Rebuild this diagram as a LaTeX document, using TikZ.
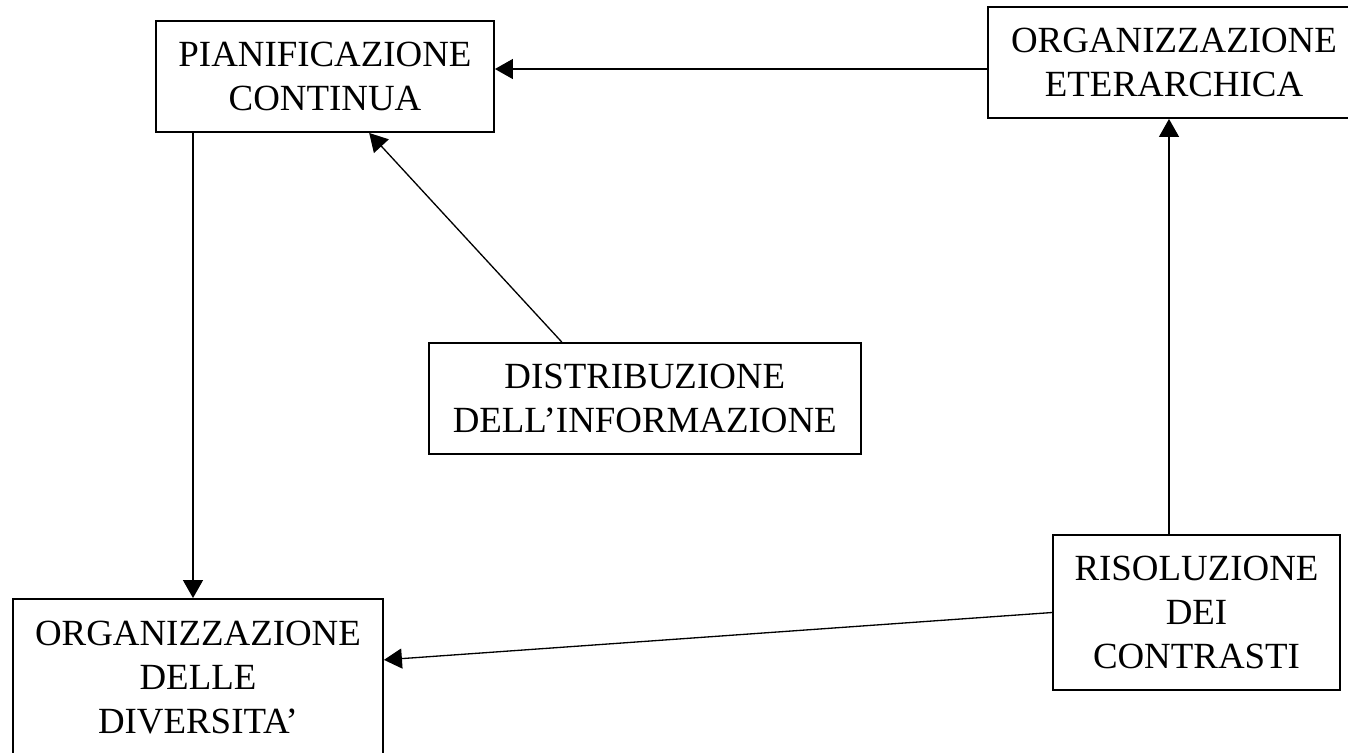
\documentclass[tikz,border=0pt]{standalone}
\usepackage{fontspec}
\setmainfont{Liberation Serif}
\usetikzlibrary{arrows.meta,calc}

\begin{document}
\begin{tikzpicture}[x=0.02cm,y=-0.02cm,
    box/.style={draw,line width=1.1pt,align=center,inner sep=0pt,font=\fontsize{21pt}{25pt}\selectfont},
    arr/.style={line width=0.75pt,-{Triangle[length=0.36cm,width=0.4cm]}}]
      \useasboundingbox (0,0) rectangle (1348,752);
      \clip (0,0) rectangle (1348,752);
      \node[box,minimum width=6.76cm,minimum height=2.22cm] (plan) at (325,76.5) {PIANIFICAZIONE\\CONTINUA};
      \node[box,minimum width=7.44cm,minimum height=2.22cm] (eter) at (1174,62.5) {ORGANIZZAZIONE\\ETERARCHICA};
      \node[box,minimum width=8.65cm,minimum height=2.22cm] (distr) at (644.75,398.5) {DISTRIBUZIONE\\DELL’INFORMAZIONE};
      \node[box,minimum width=5.74cm,minimum height=3.10cm] (risol) at (1196.5,612.5) {RISOLUZIONE\\DEI\\CONTRASTI};
      \node[box,minimum width=7.40cm,minimum height=3.14cm] (divers) at (198,677.5) {ORGANIZZAZIONE\\DELLE\\DIVERSITA’};
      \coordinate (toprow) at (0,69);
      \coordinate (leftcol) at (193,0);
      \coordinate (rightcol) at (1169,0);
      \draw[arr] (eter.west |- toprow) -- (plan.east |- toprow);
      \draw[arr] (plan.south -| leftcol) -- (divers.north -| leftcol);
      \draw[arr] ($(distr.north west)!0.309!(distr.north east)$) -- ($(plan.south west)!0.63!(plan.south east)$);
      \draw[arr] (risol.north -| rightcol) -- (eter.south -| rightcol);
      \draw[arr] (risol.west) -- ($(divers.north east)!0.389!(divers.south east)$);
    \end{tikzpicture}
\end{document}
